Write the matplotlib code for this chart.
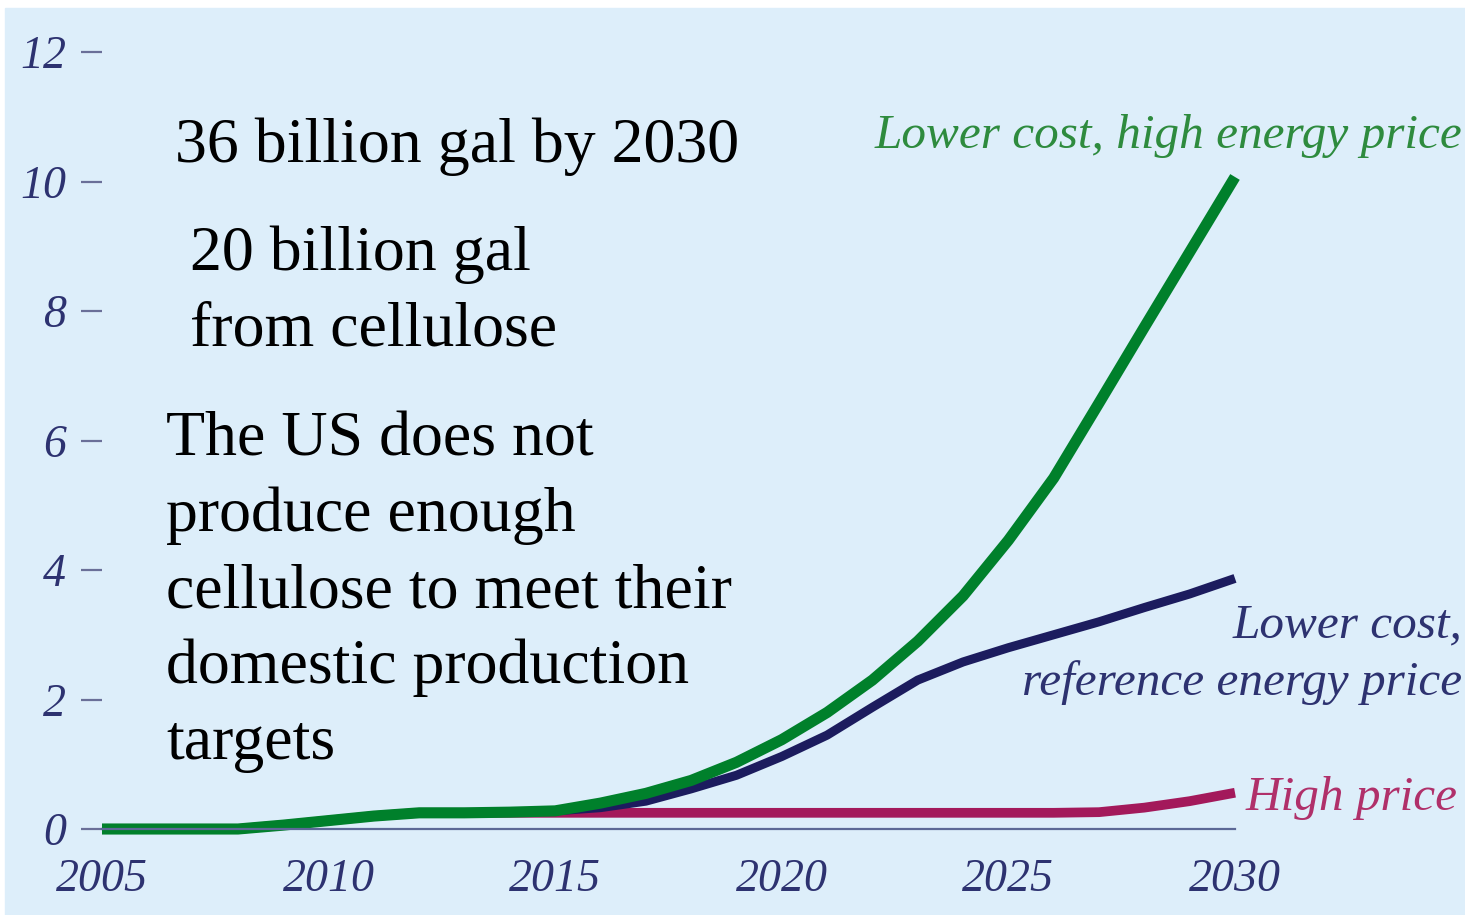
import numpy as np
import matplotlib.pyplot as plt
from matplotlib.patches import Rectangle

# billion gallons per year
years = np.arange(2005, 2031)
high_energy = [0, 0, 0, 0, 0.06, 0.13, 0.2, 0.25, 0.25, 0.26, 0.28,
               0.4, 0.55, 0.75, 1.03, 1.38, 1.8, 2.3, 2.9, 3.6,
               4.46, 5.42, 6.58, 7.75, 8.91, 10.07]
reference = [0, 0, 0, 0, 0.06, 0.13, 0.2, 0.25, 0.25, 0.26, 0.28,
             0.33, 0.43, 0.62, 0.83, 1.12, 1.45, 1.88, 2.3, 2.58,
             2.8, 3.0, 3.2, 3.42, 3.63, 3.87]
high_price = [0, 0, 0, 0, 0.06, 0.13, 0.2, 0.25, 0.25, 0.25, 0.25,
              0.25, 0.25, 0.25, 0.25, 0.25, 0.25, 0.25, 0.25, 0.25,
              0.25, 0.25, 0.26, 0.33, 0.43, 0.56]

yticks = [0, 2, 4, 6, 8, 10, 12]
xticks = [2005, 2010, 2015, 2020, 2025, 2030]

W, H = 1465, 915
bg = '#ddeefa'
navy_txt = '#2d3270'


def px(x, y):
    return x / W, 1 - y / H


fig = plt.figure(figsize=(W / 100, H / 100), dpi=100)
fig.patches.append(Rectangle((5 / W, 0), 1 - 5 / W, 907 / H,
                             transform=fig.transFigure, color=bg, zorder=-1))

ax = fig.add_axes([102 / W, 86 / H, 1133 / W, 777 / H])
ax.set_facecolor('none')
ax.set_zorder(1)

line_kw = dict(solid_capstyle='butt', solid_joinstyle='round', clip_on=False)
ax.plot(years, high_price, color='#a3195b', lw=7, **line_kw)
ax.plot(years, reference, color='#1c1c5e', lw=6.5, **line_kw)
ax.plot(years, high_energy, color='#00802b', lw=8, **line_kw)

ax.set_xlim(2005, 2030)
ax.set_ylim(0, 12)
for s in ['top', 'right', 'left']:
    ax.spines[s].set_visible(False)
ax.spines['bottom'].set_color('#5c6896')
ax.spines['bottom'].set_linewidth(1.6)

tick_font = dict(family='Liberation Serif', style='italic', size=33)
ax.set_yticks(yticks)
ax.set_yticklabels([str(v) for v in yticks], fontdict=tick_font, color=navy_txt)
ax.set_xticks(xticks)
ax.set_xticklabels([str(v) for v in xticks], fontdict=tick_font, color=navy_txt)
ax.tick_params(axis='y', direction='out', length=15, width=1.6, color='#6a6f98', pad=11)
ax.tick_params(axis='x', length=0, pad=21)

# series labels
lab_font = dict(family='Liberation Serif', style='italic', size=35.5)
fig.text(*px(1462, 148), 'Lower cost, high energy price', color='#2e8b3e',
         ha='right', va='baseline', **lab_font)
fig.text(*px(1462, 637), 'Lower cost,', color=navy_txt,
         ha='right', va='baseline', **lab_font)
fig.text(*px(1462, 695), 'reference energy price', color=navy_txt,
         ha='right', va='baseline', **lab_font)
fig.text(*px(1246, 810), 'High price', color='#b0306a',
         ha='left', va='baseline', **lab_font)

# annotations
note_font = dict(family='Liberation Serif', size=46, color='black')
fig.text(*px(175, 162), '36 billion gal by 2030', ha='left', va='baseline', **note_font)
fig.text(*px(190, 270), '20 billion gal', ha='left', va='baseline', **note_font)
fig.text(*px(190, 345), 'from cellulose', ha='left', va='baseline', **note_font)
lines = ['The US does not', 'produce enough', 'cellulose to meet their',
         'domestic production', 'targets']
for i, t in enumerate(lines):
    fig.text(*px(166, 455 + 76 * i), t, ha='left', va='baseline', **note_font)

fig.savefig('out.png', dpi=100)
